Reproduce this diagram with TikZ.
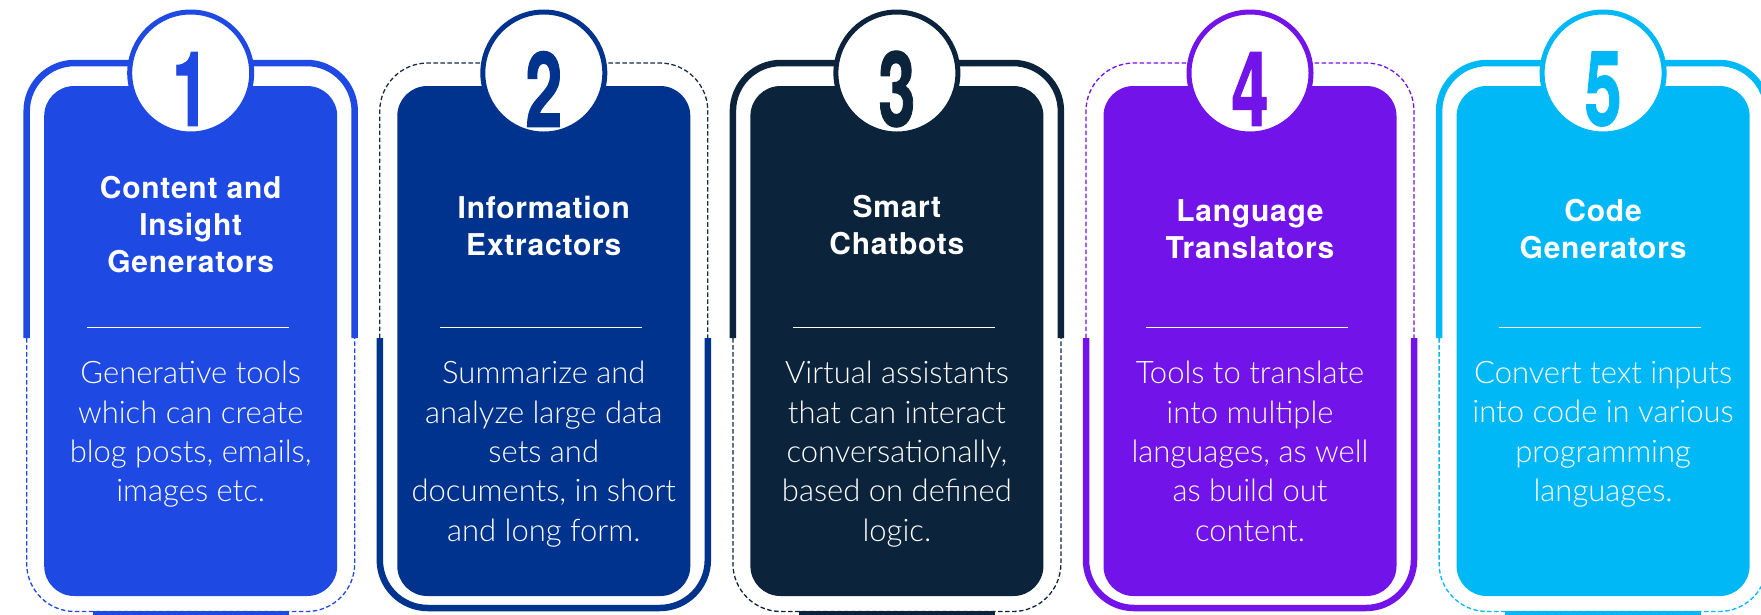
\documentclass[tikz,border=0pt]{standalone}
\usepackage{fontspec}
\setmainfont{TeX Gyre Heros}
\newfontfamily\descfont{Lato Light}
\newfontfamily\titlefont{TeX Gyre Heros}[LetterSpace=2.5]
\newfontfamily\numfont{TeX Gyre Heros}[BoldFeatures={FakeBold=1.2}]
\definecolor{cobalt}{HTML}{1E49E2}
\definecolor{kblue}{HTML}{00338D}
\definecolor{kdark}{HTML}{0C233C}
\definecolor{kpurple}{HTML}{7213EA}
\definecolor{kpacific}{HTML}{00B8F5}
\definecolor{kdash}{HTML}{1C2A44}
\tikzset{
  solidframe/.style={line width=6.5pt},
  dashframe/.style={line width=1.3pt, dash pattern=on 4.5pt off 2.5pt},
  numcircle/.style={circle, line width=5pt, fill=white, minimum size=122pt, inner sep=0pt},
  numtext/.style={font=\numfont\bfseries\fontsize{104}{104}\selectfont, inner sep=0pt},
  titletext/.style={font=\titlefont\bfseries\fontsize{30}{37}\selectfont, text=white, align=center, anchor=north, inner sep=0pt},
  desctext/.style={font=\descfont\fontsize{31}{39.4}\selectfont, text=white, align=center, anchor=north, inner sep=0pt},
  sepline/.style={white, line width=1pt},
}
\newcommand\oddframe[3]{%
  \draw[solidframe, #2, rounded corners=48pt] (#1,338) -- (#1,63) -- (#1+328,63) -- (#1+328,338);
  \draw[dashframe, #3, rounded corners=48pt] (#1,338) -- (#1,611.5) -- (#1+328,611.5) -- (#1+328,338);
  \draw[solidframe, #2] (#1+66,614) -- (#1+262,614);
}
\newcommand\evenframe[3]{%
  \draw[dashframe, #3, rounded corners=48pt] (#1,338) -- (#1,63) -- (#1+328,63) -- (#1+328,338);
  \draw[solidframe, #2, rounded corners=48pt] (#1,338) -- (#1,608) -- (#1+328,608) -- (#1+328,338);
}
\newcommand\infocard[7]{%
  \fill[#3, rounded corners=30pt] (#2+17.5,86) rectangle (#2+310.5,596);
  \node[numcircle, draw=#3] (circ#1) at (#2+164,73) {};
  \node[numtext, text=#3] (num#1) at (#2+164,89) {\scalebox{0.64}[1]{#4}};
  \node[titletext] (title#1) at (#2+164,#6) {#5};
  \coordinate (sepa#1) at (#2+60.3,327);
  \coordinate (sepb#1) at (#2+262.3,327);
  \draw[sepline] (sepa#1) -- (sepb#1);
  \node[desctext] (desc#1) at (#2+164,361) {#7};
}
\begin{document}
\begin{tikzpicture}[x=1pt,y=-1pt]
\useasboundingbox (0,0) rectangle (1761,614);
\clip (0,0) rectangle (1761,614);
\oddframe{26.7}{cobalt}{cobalt}
\evenframe{379.8}{kblue}{kdash}
\oddframe{732.9}{kdark}{kdark}
\evenframe{1086}{kpurple}{kpurple}
\oddframe{1439.1}{kpacific}{kpacific}
\infocard{1}{26.7}{cobalt}{1}{Content and\\Insight\\Generators}{176.5}{Generative tools\\which can create\\blog posts, emails,\\images etc.}
\infocard{2}{379.8}{kblue}{2}{Information\\Extractors}{195.5}{Summarize and\\analyze large data\\sets and\\documents, in short\\and long form.}
\infocard{3}{732.9}{kdark}{3}{Smart\\Chatbots}{195.5}{Virtual assistants\\that can interact\\conversationally,\\based on defined\\logic.}
\infocard{4}{1086}{kpurple}{4}{Language\\Translators}{199.5}{Tools to translate\\into multiple\\languages, as well\\as build out\\content.}
\infocard{5}{1439.1}{kpacific}{5}{Code\\Generators}{199.5}{Convert text inputs\\into code in various\\programming\\languages.}
\end{tikzpicture}
\end{document}
